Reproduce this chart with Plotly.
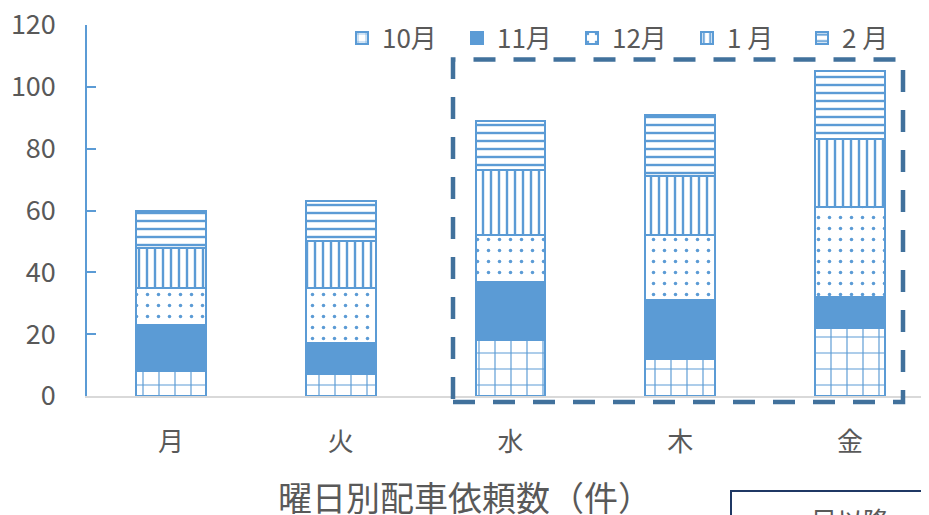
import plotly.graph_objects as go

categories = ["月", "火", "水", "木", "金"]
series_names = ["10月", "11月", "12月", "1 月", "2 月"]
oct_vals = [8, 7, 18, 12, 22]
nov_vals = [15, 10, 19, 19, 10]
dec_vals = [12, 18, 15, 21, 29]
jan_vals = [13, 15, 21, 19, 22]
feb_vals = [12, 13, 16, 20, 22]
y_ticks = [0, 20, 40, 60, 80, 100, 120]

BLUE = "#5B9BD5"
GREY = "#595959"
FONT = "Noto Sans CJK JP"

patterns = [
    dict(shape="+", size=16, solidity=0.14),
    dict(shape="", size=8, solidity=1),
    dict(shape=".", size=11, solidity=0.08),
    dict(shape="|", size=8, solidity=0.3),
    dict(shape="-", size=8, solidity=0.3),
]
series_vals = [oct_vals, nov_vals, dec_vals, jan_vals, feb_vals]

fig = go.Figure()
for name, vals, pat in zip(series_names, series_vals, patterns):
    p = dict(pat)
    if p["shape"]:
        p.update(fgcolor=BLUE, bgcolor="white", fillmode="replace")
        marker = dict(color="white", pattern=p, line=dict(color=BLUE, width=2))
    else:
        marker = dict(color=BLUE, line=dict(color=BLUE, width=2))
    fig.add_trace(go.Bar(x=categories, y=vals, name=name, marker=marker))

# page body has an 8px margin; work in window pixels and offset
OFF = 8
W, H = 929 - OFF, 515 - OFF
ML, MR, MT, MB = 87 - OFF, 0, 25 - OFF, H - (396 - OFF)
PW, PH = W - ML - MR, H - MT - MB

def px(x):
    return (x - OFF - ML) / PW

def py(y):
    return (H - MB - (y - OFF)) / PH

fig.update_layout(
    width=W, height=H,
    margin=dict(l=ML, r=MR, t=MT, b=MB, pad=0, autoexpand=False),
    barmode="stack",
    bargap=0.59,
    plot_bgcolor="white",
    paper_bgcolor="white",
    font=dict(family=FONT, color=GREY, size=26),
    legend=dict(
        orientation="h", x=px(342), y=py(38), xanchor="left", yanchor="middle",
        font=dict(size=26, color=GREY), bgcolor="rgba(0,0,0,0)",
        entrywidth=70, entrywidthmode="pixels", traceorder="normal",
    ),
    xaxis=dict(
        range=[-0.4956, 4.466], showgrid=False, showline=True,
        linecolor="#D9D9D9", linewidth=1.5, ticks="",
        tickfont=dict(size=26, color=GREY), ticklabelstandoff=22,
        automargin=False, ticklabeloverflow="allow",
    ),
    yaxis=dict(
        range=[0, 120], tickvals=y_ticks, showgrid=False, showline=True,
        linecolor=BLUE, linewidth=1.5, ticks="inside", ticklen=9,
        tickcolor=BLUE, tickwidth=1.5, zeroline=False,
        tickfont=dict(size=27, color=GREY), ticklabelstandoff=24,
        automargin=False, ticklabeloverflow="allow",
    ),
    shapes=[
        dict(type="rect", xref="paper", yref="paper",
             x0=px(453), x1=px(903), y0=py(402), y1=py(59.5),
             line=dict(color="#41719C", width=4.5, dash="22px,18px"),
             fillcolor="rgba(0,0,0,0)"),
        dict(type="rect", xref="paper", yref="paper",
             x0=px(731), x1=px(960), y0=py(560), y1=py(491),
             line=dict(color="#1F3864", width=2),
             fillcolor="rgba(0,0,0,0)"),
    ],
    annotations=[
        dict(text="曜日別配車依頼数（件）", xref="paper", yref="paper",
             x=px(465), y=py(496), xanchor="center", yanchor="middle",
             showarrow=False, font=dict(size=34, color=GREY)),
        dict(text="目以降", xref="paper", yref="paper",
             x=px(850), y=py(499), xanchor="center", yanchor="top",
             showarrow=False, font=dict(size=26, color=GREY)),
    ],
)

fig.write_html("out.html")
